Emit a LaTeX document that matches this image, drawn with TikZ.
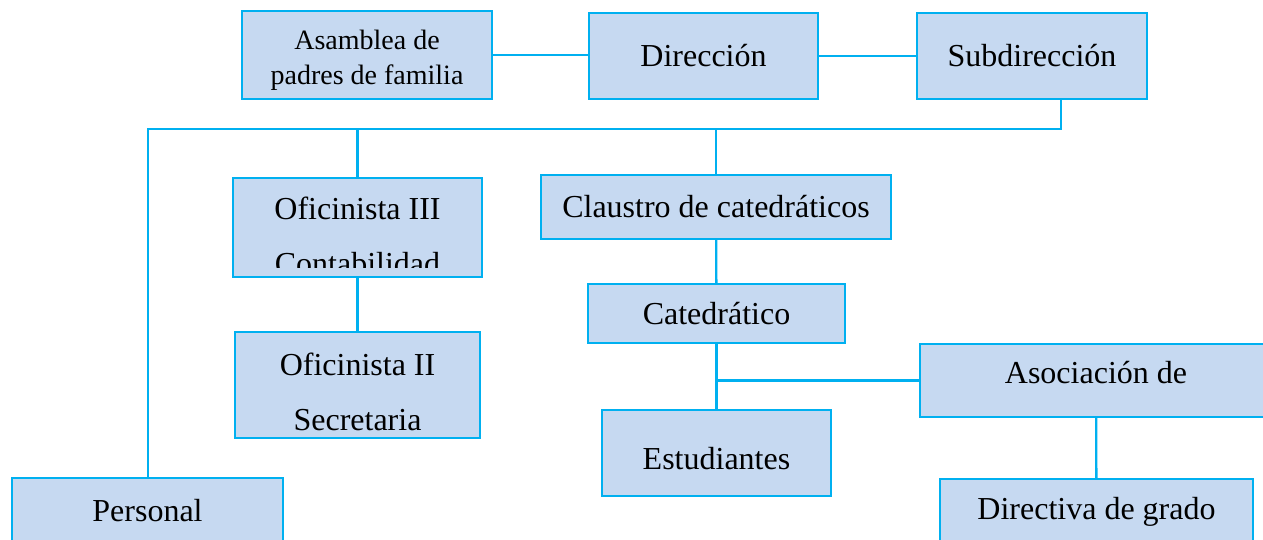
\documentclass[tikz,border=0pt]{standalone}
\usepackage{fontspec}
\setmainfont{Liberation Serif}
\usetikzlibrary{positioning,calc}
\definecolor{boxfill}{HTML}{C6D9F1}
\definecolor{boxline}{HTML}{00B0F0}

\begin{document}
\begin{tikzpicture}[x=1pt,y=-1pt,
    box/.style={draw=boxline, fill=boxfill, line width=2.3pt, inner sep=0pt,
        font=\fontsize{32}{55}\selectfont, align=center},
    link/.style={draw=boxline, line width=2.3pt}]

    \useasboundingbox (0,0) rectangle (1263,540);

    % top row
    \node[box, minimum width=250pt, minimum height=88pt, font=\fontsize{28}{35}\selectfont] (asamblea) at (367,55) {\rule{0pt}{29pt}Asamblea de\\padres de familia};
    \node[box, minimum width=229pt, minimum height=86pt] (direccion) at (703.5,56) {Direcci\'on};
    \node[box, minimum width=230pt, minimum height=86pt] (subdireccion) at (1032,56) {Subdirecci\'on};

    % left branch
    \node[box, minimum width=249pt, minimum height=99pt] (oficinista3) at (357.5,227.5) {};
    \begin{scope}
        \clip (oficinista3.north west) rectangle ([yshift=11pt]oficinista3.south east);
        \node[anchor=north, inner sep=0pt, align=center, font=\fontsize{32}{55}\selectfont] (oficinista3txt) at (357.5,197) {Oficinista III\\Contabilidad};
    \end{scope}
    \node[box, minimum width=245pt, minimum height=106pt] (oficinista2) at (357.5,385) {\rule{0pt}{36pt}Oficinista II\\Secretaria};
    \node[box, minimum width=271pt, minimum height=66pt] (personal) at (147.5,511) {Personal};

    % middle branch
    \node[box, minimum width=350pt, minimum height=64pt] (claustro) at (716,207) {Claustro de catedr\'aticos};
    \node[box, minimum width=257pt, minimum height=59pt] (catedratico) at (716.5,313.5) {Catedr\'atico};
    \node[box, minimum width=229pt, minimum height=86pt, text height=34pt] (estudiantes) at (716.5,453) {Estudiantes};

    % right branch
    \node[box, minimum width=352pt, minimum height=73pt, text depth=17pt] (asociacion) at (1096,380.5) {Asociaci\'on de};
    \node[box, minimum width=313pt, minimum height=65pt] (directiva) at (1096.5,511.5) {Directiva de grado};

    \coordinate (busR) at (1061,129);
    \coordinate (busL) at (148,129);

    \path[link] (asamblea.east) -- (asamblea.east -| direccion.west);
    \path[link] (direccion.east) -- (direccion.east -| subdireccion.west);
    \path[link] ([xshift=29pt]subdireccion.south) -- (busR) -- (busL) -- (busL |- personal.north);
    \path[link] (oficinista3.north) -- (oficinista3.north |- busL);
    \path[link] (claustro.north) -- (claustro.north |- busL);
    \path[link] (oficinista3) edge (oficinista2);
    \path[link] (claustro) edge (catedratico);
    \path[link] (catedratico) edge (estudiantes);
    \path[link] (asociacion.west) -- (asociacion.west -| catedratico.south);
    \path[link] (asociacion) edge (directiva);

\end{tikzpicture}
\end{document}
